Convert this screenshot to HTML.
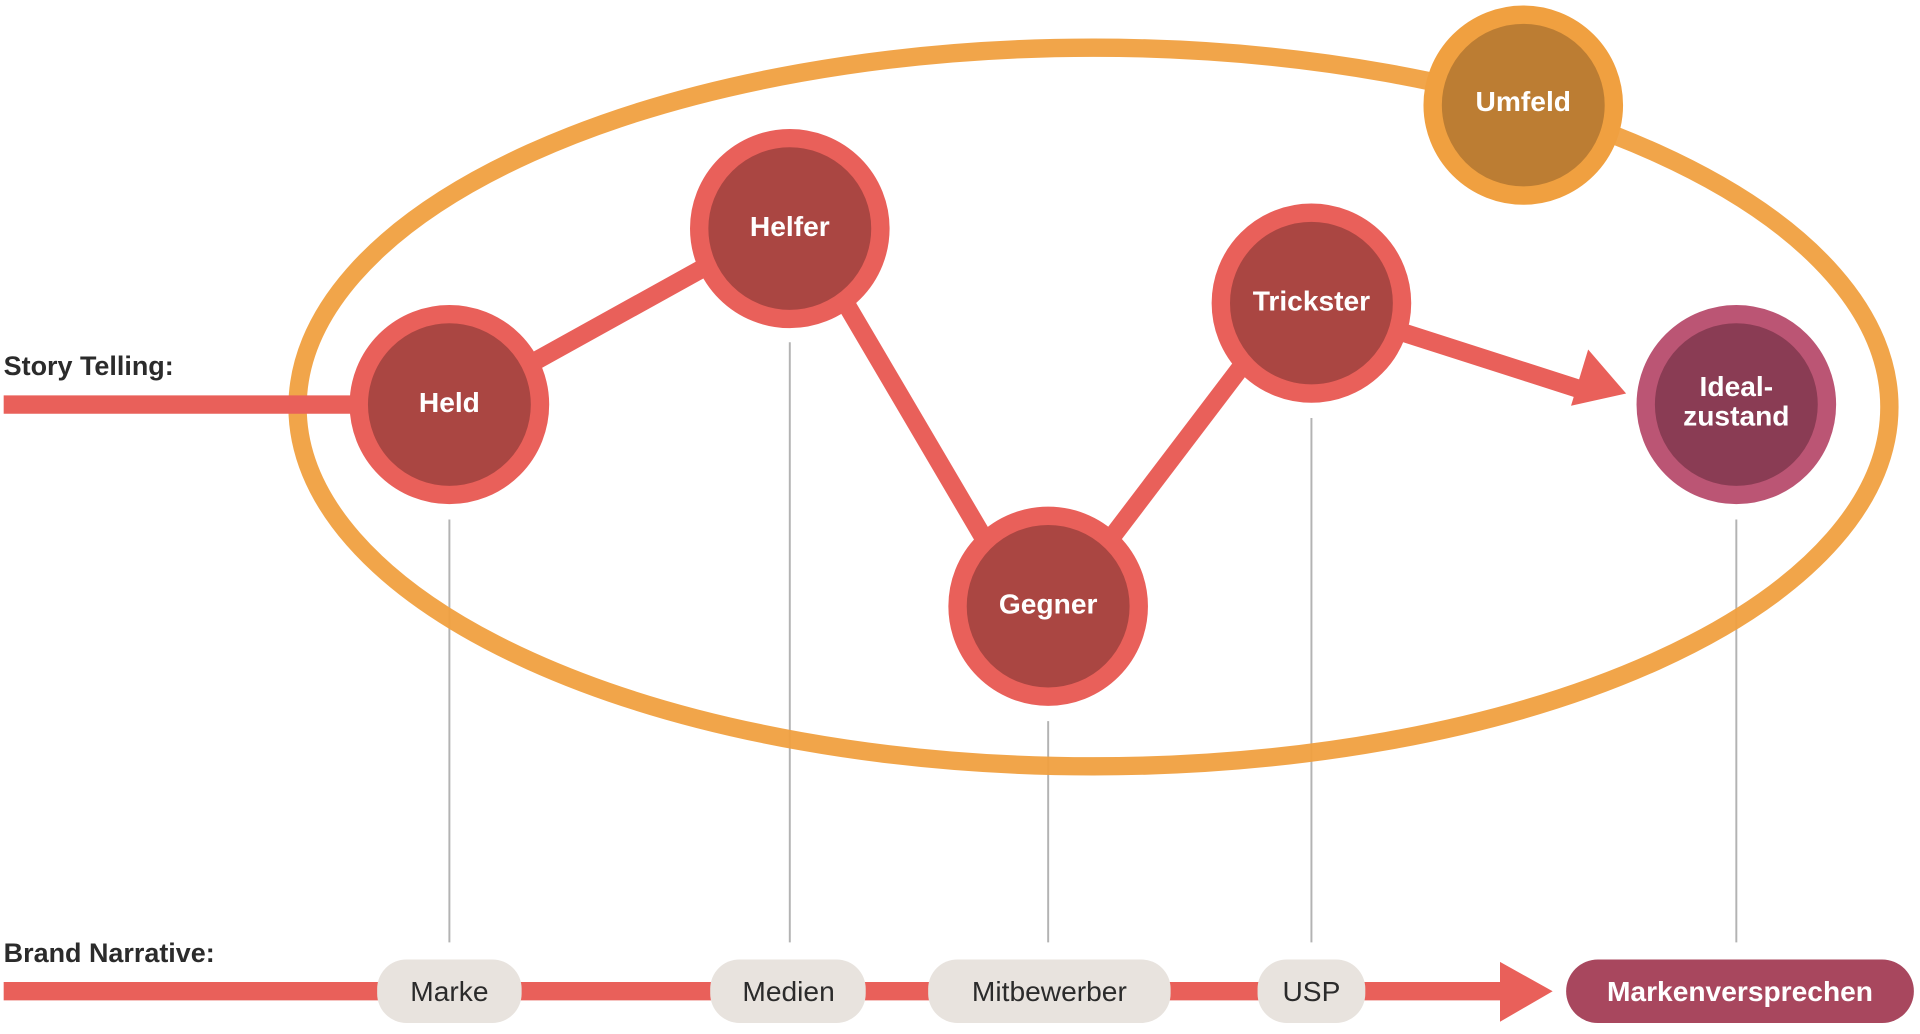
<!DOCTYPE html>
<html><head><meta charset="utf-8"><style>
html,body{margin:0;padding:0;background:#fff;overflow:hidden}
svg{display:block}
text{font-family:"Liberation Sans",sans-serif;font-weight:bold}
</style></head><body>
<svg width="1920" height="1034" viewBox="0 0 1568 846" preserveAspectRatio="none">
<g stroke="#b3b3b3" stroke-width="1.6">
<line x1="367" y1="425" x2="367" y2="771"/>
<line x1="645" y1="280" x2="645" y2="771"/>
<line x1="856" y1="590" x2="856" y2="771"/>
<line x1="1071" y1="342" x2="1071" y2="771"/>
<line x1="1418" y1="425" x2="1418" y2="771"/>
</g>
<ellipse cx="893" cy="333" rx="650" ry="294" fill="none" stroke="#F0A040" stroke-width="15" opacity="0.95"/>
<g stroke="#E9605A" stroke-width="15">
<line x1="3" y1="331" x2="300" y2="331"/>
<line x1="420" y1="305" x2="600" y2="205"/>
<line x1="680" y1="230" x2="815" y2="460"/>
<line x1="900" y1="450" x2="1035" y2="272"/>
<line x1="1071" y1="248" x2="1295" y2="320"/>
</g>
<polygon points="1328,322 1283,332 1297,286" fill="#E9605A"/>
<g stroke-width="15">
<circle cx="367" cy="331" r="74" fill="#AA4642" stroke="#E9605A"/>
<circle cx="645" cy="187" r="74" fill="#AA4642" stroke="#E9605A"/>
<circle cx="856" cy="496" r="74" fill="#AA4642" stroke="#E9605A"/>
<circle cx="1071" cy="248" r="74" fill="#AA4642" stroke="#E9605A"/>
<circle cx="1244" cy="86" r="74" fill="#BC7D33" stroke="#F0A040"/>
<circle cx="1418" cy="331" r="74" fill="#8A3C54" stroke="#BB5574"/>
</g>
<g fill="#fff" font-size="23" text-anchor="middle">
<text x="367" y="337">Held</text>
<text x="645" y="193">Helfer</text>
<text x="856" y="502">Gegner</text>
<text x="1071" y="254">Trickster</text>
<text x="1244" y="91">Umfeld</text>
<text x="1418" y="324">Ideal-</text>
<text x="1418" y="348">zustand</text>
</g>
<text x="3" y="307" font-size="22" fill="#2b2b2b">Story Telling:</text>
<text x="3" y="787" font-size="22" fill="#2b2b2b">Brand Narrative:</text>
<line x1="3" y1="811" x2="1232" y2="811" stroke="#E9605A" stroke-width="15"/>
<polygon points="1225,787 1268,811 1225,836" fill="#E9605A"/>
<g fill="#E8E3DE">
<rect x="308" y="785" width="118" height="52" rx="24"/>
<rect x="580" y="785" width="127" height="52" rx="24"/>
<rect x="758" y="785" width="198" height="52" rx="24"/>
<rect x="1027" y="785" width="88" height="52" rx="24"/>
</g>
<rect x="1279" y="785" width="284" height="52" rx="26" fill="#A8475E"/>
<g font-size="23" text-anchor="middle" fill="#2b2b2b">
<text x="367" y="819" style="font-weight:normal">Marke</text>
<text x="644" y="819" style="font-weight:normal">Medien</text>
<text x="857" y="819" style="font-weight:normal">Mitbewerber</text>
<text x="1071" y="819" style="font-weight:normal">USP</text>
</g>
<text x="1421" y="819" font-size="23" text-anchor="middle" fill="#fff">Markenversprechen</text>
</svg>
</body></html>
